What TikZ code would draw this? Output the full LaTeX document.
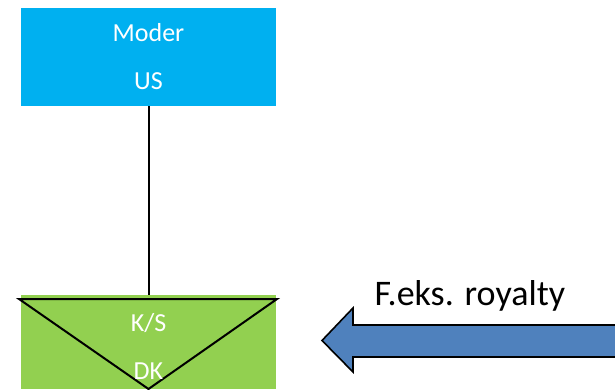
\documentclass[tikz,border=0pt]{standalone}
\usepackage{fontspec}
\setmainfont{Carlito}
\usepackage{xcolor}
\usetikzlibrary{positioning}

\definecolor{modercyan}{HTML}{00B0F0}
\definecolor{ksgreen}{HTML}{92D050}
\definecolor{arrowblue}{HTML}{4F81BD}

\tikzset{
  company/.style={rectangle, minimum width=255pt, text=white, align=center,
    font=\fontsize{26}{48}\selectfont, inner sep=0pt},
  flow/.style={draw=black, line width=1.6pt, fill=arrowblue, line join=miter}
}

\begin{document}
\begin{tikzpicture}[x=1pt, y=-1pt]
    \useasboundingbox (0,0) rectangle (615,389);
    \node [company, fill=modercyan, minimum height=98pt] (moder) at (148.5,57) {Moder\\US};
    \node [company, fill=ksgreen, minimum height=94pt] (ks) at (148.5,342) {};
    % triangle for K/S
    \draw [line width=2pt] (19,299) -- (277,299) -- (148.5,389) -- cycle;
    \node [company, text width=100pt] (kstext) at (148.5,346) {K/S\\DK};
    \draw [line width=2pt] (moder.south) -- (ks.north);
    % arrow from the right
    \coordinate (tip) at (322,340.5);
    \draw [flow] (620,325) -- (353,325) -- (353,308) -- (tip) -- (353,372) -- (353,357) -- (620,357);
    \node [font=\fontsize{36}{40}\selectfont, anchor=base west] (royalty) at (371,305) {F.eks. royalty};
\end{tikzpicture}
\end{document}
